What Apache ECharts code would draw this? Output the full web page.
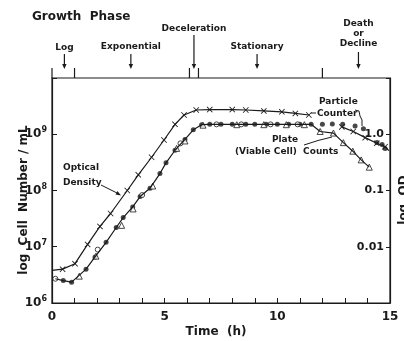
<!DOCTYPE html>
<html>
<head>
<meta charset="utf-8">
<script src="https://cdn.jsdelivr.net/npm/echarts@6/dist/echarts.min.js"></script>
<style>
  html, body { margin: 0; padding: 0; background: #fff; }
  #chart { width: 404px; height: 341px; }
</style>
</head>
<body>
<div id="chart"></div>
<script>
  // optical density, right axis (OD units); null breaks the line
  const odTime = [0, 0.47, 1.02, 1.58, 2.13, 2.6, 3.34, 3.83, 4.42, 4.97, 5.46, 5.86, 6.4, 7.0, 8.0, 8.6, 9.4, 10.2, 10.8, 11.4, 12.1, 12.86, 13.37, 13.9, 14.41, 14.78, 14.95];
  const odVal = [0.0038, 0.0040, 0.0050, 0.011, 0.023, 0.039, 0.10, 0.19, 0.39, 0.79, 1.5, 2.2, 2.7, 2.75, 2.75, 2.7, 2.6, 2.5, 2.35, 2.2, null, 1.35, 1.12, 0.87, 0.69, 0.60, 0.51];

  // particle counter (filled dots), cells / mL
  const countTime = [0.5, 0.87, 1.51, 1.91, 2.4, 2.85, 3.16, 3.58, 3.91, 4.35, 4.79, 5.06, 5.46, 5.9, 6.27, 6.64, 7.0, 7.5, 8.0, 8.6, 9.0, 9.5, 10.0, 10.5, 11.0, 11.5, 12.0, 12.44, 12.9, 13.45, 13.82, 14.42, 14.65, 14.78];
  const countVal = [2.5e6, 2.35e6, 4.0e6, 6.6e6, 1.2e7, 2.2e7, 3.3e7, 5.1e7, 7.8e7, 1.1e8, 2.0e8, 3.1e8, 5.2e8, 8.1e8, 1.2e9, 1.48e9, 1.5e9, 1.5e9, 1.5e9, 1.5e9, 1.5e9, 1.5e9, 1.5e9, 1.5e9, 1.5e9, 1.5e9, 1.5e9, 1.52e9, 1.5e9, 1.4e9, 1.25e9, 7.1e8, 6.6e8, 5.6e8];

  // plate (viable cell) counts, triangles
  const plateTime = [1.21, 1.95, 3.09, 3.6, 4.47, 5.53, 5.9, 6.7, 8.2, 9.4, 10.4, 11.2, 11.9, 12.49, 12.93, 13.35, 13.72, 14.08];
  const plateVal = [3.0e6, 6.8e6, 2.4e7, 4.7e7, 1.2e8, 5.6e8, 7.6e8, 1.45e9, 1.48e9, 1.48e9, 1.48e9, 1.48e9, 1.12e9, 1.05e9, 7.1e8, 5.0e8, 3.5e8, 2.6e8];

  // plate counts, open circles
  const circTime = [0.15, 2.03, 4.0, 5.7, 7.3, 8.4, 9.7, 10.9];
  const circVal = [2.7e6, 8.9e6, 8.3e7, 6.9e8, 1.5e9, 1.5e9, 1.5e9, 1.5e9];

  const declineStart = 11.9; // lower curve follows plate counts from here

  // growth phases
  const phaseBounds = [0, 1, 6.1, 6.5, 12];
  const phaseNames = ['Log', 'Exponential', 'Deceleration', 'Stationary', 'Death\nor\nDecline'];
  const phaseAt = [0.55, 3.5, 6.3, 9.1, 13.6];

  const ink = '#1a1a1a';
  const font = 'DejaVu Sans';
  const xMark = 'path://M0,1L1,0L5,4L9,0L10,1L6,5L10,9L9,10L5,6L1,10L0,9L4,5Z';

  const zip = (t, v) => t.map((x, i) => [x, v[i]]);

  const odData = odTime.map((t, i) => {
    if (odVal[i] == null) return [t, null];
    const last = i === 0 || i === odTime.length - 1;
    return last ? { value: [t, odVal[i]], symbol: 'none' } : [t, odVal[i]];
  });

  const lowerLine = [[circTime[0], circVal[0]]]
    .concat(zip(countTime, countVal).filter(p => p[0] < declineStart - 0.2))
    .concat(zip(plateTime, plateVal).filter(p => p[0] >= declineStart));

  const chart = echarts.init(document.getElementById('chart'));
  chart.setOption({
    animation: false,
    textStyle: { fontFamily: font, color: ink },
    grid: { left: 52, right: 14, top: 78, bottom: 38, show: true, borderColor: ink, borderWidth: 1.2 },
    xAxis: {
      type: 'value', min: 0, max: 15, interval: 1,
      axisLine: { lineStyle: { color: ink, width: 1.2 } },
      axisTick: { inside: true, length: 5, lineStyle: { color: ink } },
      splitLine: { show: false },
      axisLabel: { color: ink, fontSize: 12, fontWeight: 'bold', margin: 8,
        formatter: v => (v % 5 === 0 ? String(v) : '') }
    },
    yAxis: [
      {
        type: 'log', logBase: 10, min: 1e6, max: 1e10,
        axisLine: { show: true, lineStyle: { color: ink, width: 1.2 } },
        axisTick: { show: true, inside: true, length: 5, lineStyle: { color: ink } },
        minorTick: { show: false },
        splitLine: { show: false },
        axisLabel: {
          margin: 5,
          formatter: v => {
            const e = Math.round(Math.log10(v));
            return e >= 6 && e <= 9 ? '{b|10}{s|' + e + '}' : '';
          },
          rich: {
            b: { fontSize: 12, fontWeight: 'bold', color: ink, fontFamily: font },
            s: { fontSize: 8, fontWeight: 'bold', color: ink, fontFamily: font, verticalAlign: 'top', padding: [0, 0, 8, 0] }
          }
        }
      },
      {
        type: 'log', logBase: 10, min: 0.001, max: 10, position: 'right',
        axisLine: { show: true, lineStyle: { color: ink, width: 1.2 } },
        axisTick: { show: true, inside: true, length: 4, lineStyle: { color: ink } },
        splitLine: { show: false },
        axisLabel: {
          inside: true, margin: 6, color: ink, fontSize: 11, fontWeight: 'bold',
          formatter: v => {
            if (v > 0.005 && v < 0.05) return '0.01';
            if (v > 0.05 && v < 0.5) return '0.1';
            if (v > 0.5 && v < 5) return '1.0';
            return '';
          }
        }
      }
    ],
    series: [
      {
        name: 'Optical Density', type: 'line', yAxisIndex: 1, data: odData,
        symbol: xMark, symbolSize: 6, connectNulls: false,
        lineStyle: { color: ink, width: 1.2 }, itemStyle: { color: ink }
      },
      {
        name: 'lower curve', type: 'line', data: lowerLine, showSymbol: false,
        lineStyle: { color: ink, width: 1.2 }
      },
      {
        name: 'Particle Counter', type: 'scatter', data: zip(countTime, countVal),
        symbol: 'circle', symbolSize: 5, itemStyle: { color: ink }
      },
      {
        name: 'Plate Counts', type: 'scatter', data: zip(plateTime, plateVal),
        symbol: 'triangle', symbolSize: 6,
        itemStyle: { color: '#fff', borderColor: ink, borderWidth: 1 }
      },
      {
        name: 'Plate Counts (circles)', type: 'scatter', data: zip(circTime, circVal),
        symbol: 'circle', symbolSize: 5,
        itemStyle: { color: '#fff', borderColor: ink, borderWidth: 1 }
      }
    ]
  });

  // phase bar above the plot, placed with the x axis scale
  const px = t => chart.convertToPixel({ xAxisIndex: 0 }, t);
  const plotTop = 78;
  const g = [];
  phaseBounds.forEach(t => {
    g.push({ type: 'line', shape: { x1: px(t), y1: plotTop - 10, x2: px(t), y2: plotTop }, style: { stroke: ink, lineWidth: 1.2 } });
  });
  const arrowTop = [54, 54, 35, 54, 52];
  const labelY = [48, 47, 29, 47, 34];
  phaseNames.forEach((name, i) => {
    const x = px(phaseAt[i]);
    g.push({ type: 'line', shape: { x1: x, y1: arrowTop[i], x2: x, y2: plotTop - 11 }, style: { stroke: ink, lineWidth: 1.2 } });
    g.push({ type: 'polygon', shape: { points: [[x - 2.2, plotTop - 14], [x + 2.2, plotTop - 14], [x, plotTop - 9]] }, style: { fill: ink } });
    g.push({ type: 'text', x: x, y: labelY[i], style: { text: name, fill: ink, font: 'bold 9px ' + font, align: 'center', verticalAlign: 'middle', lineHeight: 10 } });
  });
  g.push({ type: 'text', x: 32, y: 17, style: { text: 'Growth  Phase', fill: ink, font: 'bold 12px ' + font, verticalAlign: 'middle' } });

  // axis titles
  g.push({ type: 'text', x: 24, y: 200, rotation: Math.PI / 2, style: { text: 'log  Cell  Number / mL', fill: ink, font: 'bold 12px ' + font, align: 'center', verticalAlign: 'middle' } });
  g.push({ type: 'text', x: 404, y: 200, rotation: Math.PI / 2, style: { text: 'log  OD', fill: ink, font: 'bold 12px ' + font, align: 'center', verticalAlign: 'middle' } });
  g.push({ type: 'text', x: 216, y: 332, style: { text: 'Time  (h)', fill: ink, font: 'bold 12px ' + font, align: 'center', verticalAlign: 'middle' } });

  // curve annotations
  const note = (text, x, y, align) => ({ type: 'text', x: x, y: y, style: { text: text, fill: ink, font: 'bold 9px ' + font, align: align || 'left', verticalAlign: 'middle' } });
  g.push(note('Optical', 63, 168));
  g.push(note('Density', 63, 183));
  g.push({ type: 'line', shape: { x1: 101, y1: 185, x2: 119, y2: 194 }, style: { stroke: ink, lineWidth: 1 } });
  g.push({ type: 'polygon', shape: { points: [[121, 195.5], [115.5, 194.5], [117.5, 191]] }, style: { fill: ink } });

  g.push(note('Particle', 319, 102));
  g.push(note('Counter', 317, 114));
  g.push({ type: 'line', shape: { x1: 316, y1: 113, x2: 311, y2: 113 }, style: { stroke: ink, lineWidth: 1 } });
  g.push({ type: 'polyline', shape: { points: [[355, 110], [359, 111], [360, 116], [362, 120], [362, 126]] }, style: { stroke: ink, lineWidth: 1, fill: null } });

  g.push(note('Plate', 285, 140, 'center'));
  g.push(note('(Viable Cell)  Counts', 235, 152));
  g.push({ type: 'bezierCurve', shape: { x1: 304, y1: 145, x2: 332, y2: 137, cpx1: 318, cpy1: 140 }, style: { stroke: ink, lineWidth: 1, fill: null } });

  chart.setOption({ graphic: g });
</script>
</body>
</html>
